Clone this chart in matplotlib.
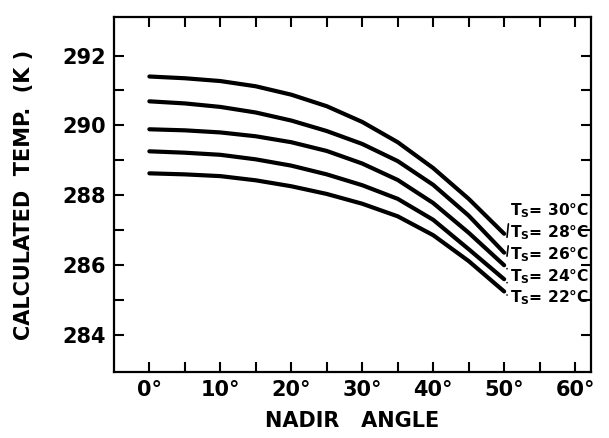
import matplotlib.pyplot as plt

# nadir angle (deg) and calculated temperature (K) for each surface temp
angles = [0, 5, 10, 15, 20, 25, 30, 35, 40, 45, 50]
t30 = [291.40, 291.35, 291.27, 291.12, 290.88, 290.55, 290.10, 289.52, 288.78, 287.90, 286.90]
t28 = [290.69, 290.63, 290.53, 290.37, 290.14, 289.84, 289.47, 288.98, 288.30, 287.42, 286.36]
t26 = [289.89, 289.86, 289.80, 289.69, 289.52, 289.27, 288.91, 288.44, 287.78, 286.93, 286.00]
t24 = [289.26, 289.22, 289.16, 289.03, 288.85, 288.60, 288.29, 287.90, 287.30, 286.46, 285.60]
t22 = [288.63, 288.60, 288.55, 288.43, 288.26, 288.04, 287.76, 287.40, 286.86, 286.12, 285.25]
series = [t30, t28, t26, t24, t22]
labels = [r'$\mathbf{T_S}$= 30°C', r'$\mathbf{T_S}$= 28°C', r'$\mathbf{T_S}$= 26°C',
          r'$\mathbf{T_S}$= 24°C', r'$\mathbf{T_S}$= 22°C']
label_y = [287.57, 286.94, 286.29, 285.66, 285.06]

xticks = [0, 10, 20, 30, 40, 50, 60]
yticks = [284, 286, 288, 290, 292]

plt.rcParams['font.family'] = 'DejaVu Sans'
plt.rcParams['font.weight'] = 'bold'

fig = plt.figure(figsize=(6.09, 4.38), dpi=100)
ax = fig.add_axes([0.187, 0.151, 0.783, 0.810])

for ys, lab, ly in zip(series, labels, label_y):
    ax.plot(angles, ys, color='black', lw=3.0, solid_capstyle='round')
    ax.annotate(lab, xy=(angles[-1] + 0.4, ys[-1] - 0.1), xytext=(50.8, ly),
                fontsize=11.2, fontweight='bold', va='center', ha='left',
                arrowprops=dict(arrowstyle='-', color='black', lw=1.2,
                                shrinkA=1, shrinkB=0, relpos=(0, 0.5)))

ax.set_xlim(-5, 62.2)
ax.set_ylim(282.95, 293.1)

ax.set_xticks(xticks)
ax.set_xticklabels(['%d°' % v for v in xticks])
ax.set_xticks([5, 15, 25, 35, 45, 55], minor=True)
ax.set_yticks(yticks)
ax.set_yticklabels([str(v) for v in yticks])
ax.set_yticks([285, 287, 289, 291], minor=True)

ax.tick_params(which='both', direction='in', top=True, right=True,
               length=7, width=1.5, labelsize=15, pad=6)
for lab in ax.get_xticklabels() + ax.get_yticklabels():
    lab.set_fontweight('bold')
for s in ax.spines.values():
    s.set_linewidth(1.6)

ax.set_xlabel('NADIR   ANGLE', fontsize=15, fontweight='bold', labelpad=8)
ax.set_ylabel('CALCULATED  TEMP.  (K )', fontsize=15, fontweight='bold', labelpad=20)

fig.savefig('out.png', dpi=100)
